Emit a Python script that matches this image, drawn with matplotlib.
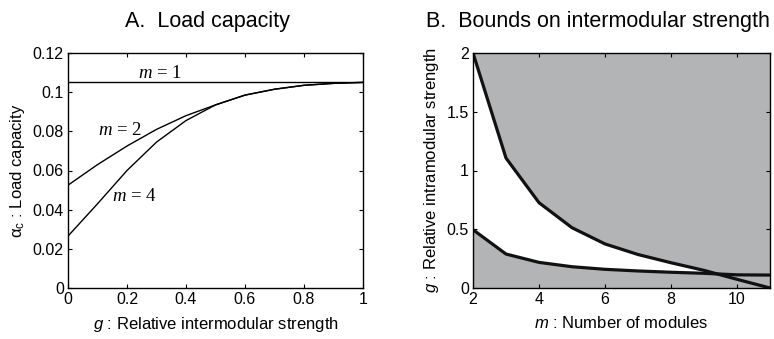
import numpy as np
import matplotlib
matplotlib.use('Agg')
import matplotlib.pyplot as plt

# panel A: load capacity vs relative intermodular strength
g = [0.0, 0.1, 0.2, 0.3, 0.4, 0.5, 0.6, 0.7, 0.8, 0.9, 1.0]
cap_m1 = [0.105] * 11
cap_m2 = [0.0525, 0.063, 0.0725, 0.081, 0.088, 0.0935, 0.0985, 0.1015, 0.1035, 0.1045, 0.105]
cap_m4 = [0.0265, 0.043, 0.060, 0.0745, 0.0855, 0.0935, 0.0985, 0.1015, 0.1035, 0.1045, 0.105]

# panel B: bounds vs number of modules
m = [2, 3, 4, 5, 6, 7, 8, 9, 10, 11]
upper = [2.0, 1.106, 0.726, 0.513, 0.375, 0.285, 0.215, 0.15, 0.074, 0.0]
lower = [0.496, 0.289, 0.218, 0.181, 0.159, 0.145, 0.134, 0.125, 0.112, 0.11]

plt.rcParams['font.family'] = ['Liberation Sans', 'DejaVu Sans']
plt.rcParams['mathtext.fontset'] = 'custom'
plt.rcParams['mathtext.rm'] = 'Liberation Sans'
plt.rcParams['mathtext.it'] = 'Liberation Sans:italic'
plt.rcParams['mathtext.cal'] = 'Liberation Serif:italic'
plt.rcParams['xtick.direction'] = 'in'
plt.rcParams['ytick.direction'] = 'in'
plt.rcParams['xtick.top'] = True
plt.rcParams['ytick.right'] = True
plt.rcParams['font.size'] = 11.5
plt.rcParams['axes.labelsize'] = 12

fig = plt.figure(figsize=(7.74, 3.39), dpi=100)
ax1 = fig.add_axes([68 / 774, 1 - 288 / 339, 295 / 774, 235 / 339])
ax2 = fig.add_axes([473 / 774, 1 - 288 / 339, 297 / 774, 235 / 339])

# titles (condensed font is not available, so a smaller size keeps the widths)
fig.text(207 / 774, 1 - 22 / 339, 'A.  Load capacity', fontsize=15.5, ha='center', va='center')
fig.text(598 / 774, 1 - 22 / 339, 'B.  Bounds on intermodular strength', fontsize=15.5,
         ha='center', va='center')

# ---- A
ax1.plot(g, cap_m1, color='black', lw=1.0)
ax1.plot(g, cap_m2, color='black', lw=1.0)
ax1.plot(g, cap_m4, color='black', lw=1.0)
ax1.set_xlim(0, 1)
ax1.set_ylim(0, 0.12)
ax1.set_xticks([0, 0.2, 0.4, 0.6, 0.8, 1])
ax1.set_xticklabels(['0', '0.2', '0.4', '0.6', '0.8', '1'])
ax1.set_yticks([0, 0.02, 0.04, 0.06, 0.08, 0.1, 0.12])
ax1.set_yticklabels(['0', '0.02', '0.04', '0.06', '0.08', '0.1', '0.12'])
lab = dict(family='Liberation Serif', fontsize=13.5, ha='center', va='center')
ax1.text(0.31, 0.1095, r'$\mathcal{m}$ = 1', **lab)
ax1.text(0.175, 0.0805, r'$\mathcal{m}$ = 2', **lab)
ax1.text(0.225, 0.0465, r'$\mathcal{m}$ = 4', **lab)
ax1.set_xlabel(r'$g$ : Relative intermodular strength', labelpad=6)
ax1.set_ylabel(r'$\mathrm{\alpha}_\mathrm{c}$ : Load capacity', labelpad=4)

# ---- B
mm = np.array(m, dtype=float)
up = np.array(upper)
lo = np.array(lower)
ax2.set_facecolor('#b2b4b5')
ax2.fill_between(mm, lo, up, where=up >= lo, interpolate=True, color='white', lw=0)
ax2.plot(m, upper, color='#111111', lw=2.3)
ax2.plot(m, lower, color='#111111', lw=2.3)
ax2.set_xlim(2, 11)
ax2.set_ylim(0, 2)
ax2.set_xticks([2, 4, 6, 8, 10])
ax2.set_yticks([0, 0.5, 1, 1.5, 2])
ax2.set_yticklabels(['0', '0.5', '1', '1.5', '2'])
ax2.set_xlabel(r'$m$ : Number of modules', labelpad=6)
ax2.set_ylabel(r'$g$ : Relative intramodular strength', labelpad=4)

for ax in (ax1, ax2):
    for s in ax.spines.values():
        s.set_linewidth(1.0)
    ax.tick_params(length=3, width=0.8, pad=3)

fig.savefig('out.png', dpi=100)
